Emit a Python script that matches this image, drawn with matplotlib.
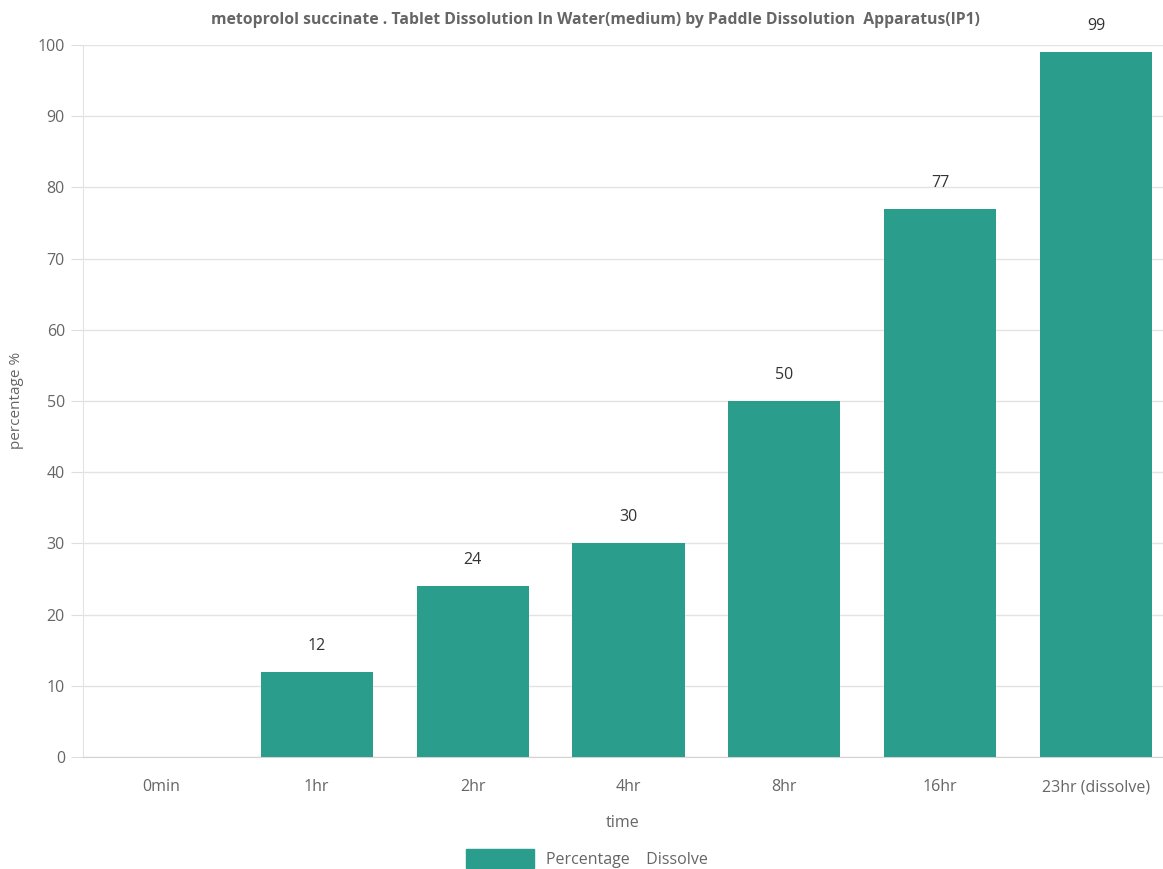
import matplotlib
matplotlib.use("Agg")
import matplotlib.pyplot as plt
import matplotlib.patches as mpatches

# data
times = ["0min", "1hr", "2hr", "4hr", "8hr", "16hr", "23hr (dissolve)"]
percent = [0, 12, 24, 30, 50, 77, 99]
yticks = [0, 10, 20, 30, 40, 50, 60, 70, 80, 90, 100]

bar_col = "#2a9d8c"
txt_col = "#666666"

plt.rcParams["font.family"] = ["Open Sans", "DejaVu Sans"]

fig = plt.figure(figsize=(11.63, 8.69), dpi=100)
ax = fig.add_axes([83 / 1163, 1 - 757 / 869, 1 - 83 / 1163, (757 - 45) / 869])

x = list(range(len(times)))
ax.bar(x, percent, width=0.72, color=bar_col, zorder=3)

for xi, v in zip(x, percent):
    if v > 0:
        ax.annotate(str(v), (xi, v), xytext=(0, 13), textcoords="offset points",
                    ha="center", va="bottom", fontsize=11.5, color="#333333")

ax.set_xlim(-0.5, 6.43)
ax.set_ylim(0, 100)
ax.set_yticks(yticks)
ax.set_xticks(x)
ax.set_xticklabels(times)
ax.grid(axis="y", color="#e3e3e3", linewidth=1, zorder=0)

for s in ["top", "right"]:
    ax.spines[s].set_visible(False)
ax.spines["left"].set_color("#e3e3e3")
ax.spines["bottom"].set_color("#d9d0d3")

ax.tick_params(axis="y", colors="#dddddd", labelcolor=txt_col, labelsize=11.5, length=9, pad=4)
ax.tick_params(axis="x", length=0, labelcolor=txt_col, labelsize=11.5, pad=16)

fig.text(17 / 1163, 1 - 400 / 869, "percentage %", rotation=90, ha="center", va="center",
         color=txt_col, fontsize=11)
ax.set_xlabel("time", color=txt_col, fontsize=11.5, labelpad=14)

fig.text(0.512, 0.977, "metoprolol succinate . Tablet Dissolution In Water(medium) by Paddle Dissolution  Apparatus(IP1)",
         ha="center", va="center", fontsize=11.3, fontweight="bold", color=txt_col, fontstretch="condensed")

patch = mpatches.Patch(color=bar_col, label="Percentage    Dissolve")
fig.legend(handles=[patch], loc="center", bbox_to_anchor=(0.505, 0.012), frameon=False,
           fontsize=11.5, labelcolor=txt_col, handlelength=4.2, handleheight=1.4)

fig.savefig("out.png", dpi=100)
